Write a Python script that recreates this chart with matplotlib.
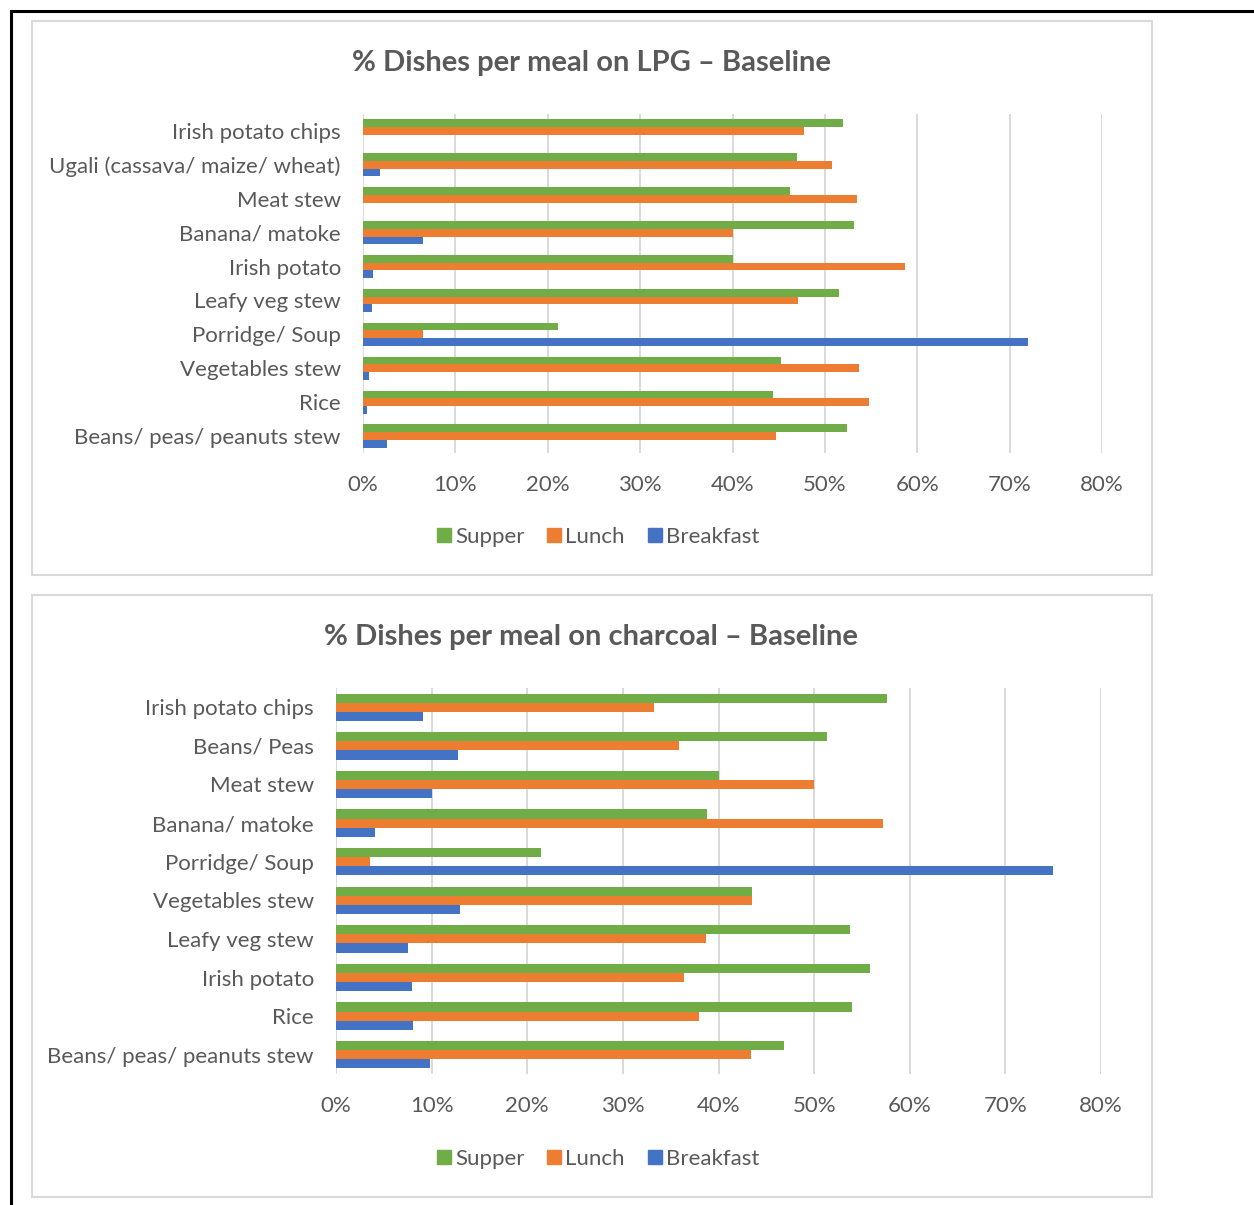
import matplotlib
matplotlib.use("Agg")
import matplotlib.pyplot as plt
import numpy as np
from matplotlib.lines import Line2D
from matplotlib.patches import Rectangle
from matplotlib.ticker import FuncFormatter, MultipleLocator

W, H = 1254, 1205
TEXT = "#595959"
GRID = "#D9D9D9"
GREEN, ORANGE, BLUE = "#70AD47", "#ED7D31", "#4472C4"

lpg_dishes = [
    "Irish potato chips", "Ugali (cassava/ maize/ wheat)", "Meat stew",
    "Banana/ matoke", "Irish potato", "Leafy veg stew", "Porridge/ Soup",
    "Vegetables stew", "Rice", "Beans/ peas/ peanuts stew",
]
lpg_supper = [52.0, 47.0, 46.2, 53.2, 40.0, 51.5, 21.1, 45.3, 44.4, 52.4]
lpg_lunch = [47.7, 50.8, 53.5, 40.0, 58.7, 47.1, 6.5, 53.7, 54.8, 44.7]
lpg_breakfast = [0.0, 1.8, 0.0, 6.5, 1.1, 1.0, 72.0, 0.6, 0.4, 2.6]

charcoal_dishes = [
    "Irish potato chips", "Beans/ Peas", "Meat stew", "Banana/ matoke",
    "Porridge/ Soup", "Vegetables stew", "Leafy veg stew", "Irish potato",
    "Rice", "Beans/ peas/ peanuts stew",
]
charcoal_supper = [57.6, 51.3, 40.0, 38.8, 21.4, 43.5, 53.8, 55.8, 54.0, 46.9]
charcoal_lunch = [33.3, 35.9, 50.0, 57.2, 3.6, 43.5, 38.7, 36.4, 38.0, 43.4]
charcoal_breakfast = [9.1, 12.8, 10.0, 4.1, 75.0, 13.0, 7.5, 7.9, 8.0, 9.8]

plt.rcParams["font.family"] = ["Lato", "DejaVu Sans"]


def fx(px):
    return px / W


def fy(py):
    return 1 - py / H


def draw_chart(fig, box, plot, title, title_y, legend_y, dishes, supper, lunch, breakfast, bar_h):
    bx0, by0, bx1, by1 = box
    fig.patches.append(Rectangle((fx(bx0), fy(by1)), fx(bx1 - bx0), (by1 - by0) / H,
                                 transform=fig.transFigure, fill=False,
                                 edgecolor=GRID, linewidth=1.5))
    px0, py0, px1, py1 = plot
    ax = fig.add_axes([fx(px0), fy(py1), fx(px1 - px0), (py1 - py0) / H])
    y = np.arange(len(dishes))
    ax.barh(y - bar_h, supper, height=bar_h, color=GREEN, label="Supper")
    ax.barh(y, lunch, height=bar_h, color=ORANGE, label="Lunch")
    ax.barh(y + bar_h, breakfast, height=bar_h, color=BLUE, label="Breakfast")
    ax.set_xlim(0, 80)
    ax.set_ylim(len(dishes) - 0.5, -0.5)
    ax.xaxis.set_major_locator(MultipleLocator(10))
    ax.xaxis.set_major_formatter(FuncFormatter(lambda v, _: f"{v:.0f}%"))
    ax.set_yticks(y)
    ax.set_yticklabels(dishes)
    ax.grid(True, axis="x", color=GRID, linewidth=1.4)
    ax.set_axisbelow(True)
    for side in ax.spines.values():
        side.set_visible(False)
    ax.tick_params(axis="both", length=0, labelsize=16, colors=TEXT)
    ax.tick_params(axis="x", pad=15.5)
    ax.tick_params(axis="y", pad=16)
    fig.text(fx(591), fy(title_y), title, ha="center", va="center",
             fontsize=21, fontweight="bold", color=TEXT)
    handles = [Line2D([], [], marker="s", linestyle="", markersize=10.5, color=c)
               for c in (GREEN, ORANGE, BLUE)]
    fig.legend(handles, ["Supper", "Lunch", "Breakfast"], loc="center",
               bbox_to_anchor=(fx(596), fy(legend_y)), ncol=3, frameon=False,
               fontsize=16, labelcolor=TEXT, handletextpad=0.0,
               columnspacing=0.85, handlelength=1.0)
    return ax


fig = plt.figure(figsize=(W / 100, H / 100), dpi=100)

draw_chart(fig, (32, 21, 1152, 575), (363, 114, 1102, 453),
           "% Dishes per meal on LPG \u2013 Baseline", 63, 537,
           lpg_dishes, lpg_supper, lpg_lunch, lpg_breakfast, 0.228)
draw_chart(fig, (32, 595, 1152, 1197), (336, 688, 1101, 1074),
           "% Dishes per meal on charcoal \u2013 Baseline", 637, 1159,
           charcoal_dishes, charcoal_supper, charcoal_lunch, charcoal_breakfast, 0.238)

# outer page frame: top and left edges only
fig.add_artist(Line2D([fx(11), 1], [fy(11), fy(11)], color="black", linewidth=2.2))
fig.add_artist(Line2D([fx(11), fx(11)], [fy(11), 0], color="black", linewidth=2.2))

fig.savefig("out.png", dpi=100, facecolor="white")
